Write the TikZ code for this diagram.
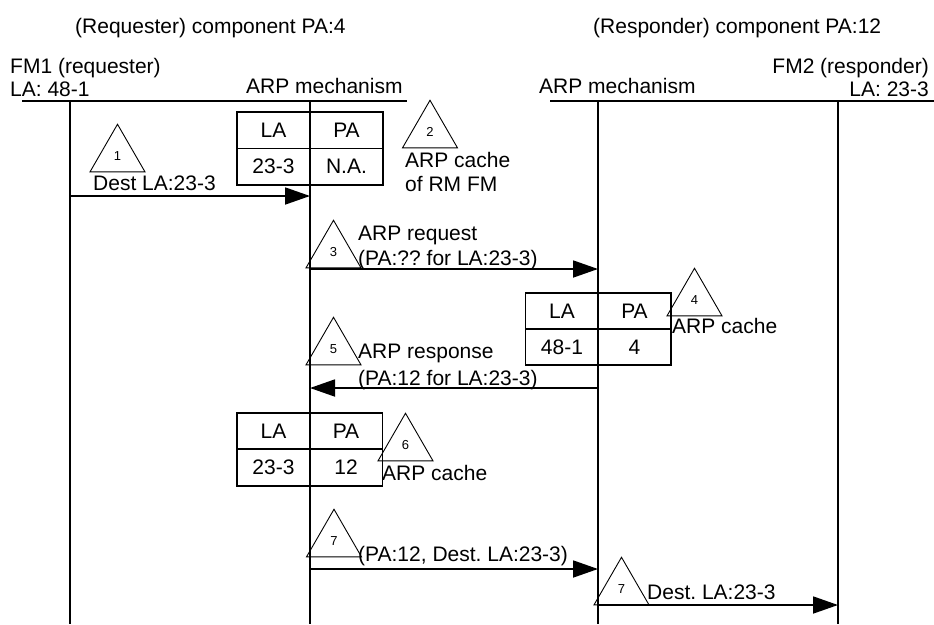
\documentclass[tikz,border=0pt]{standalone}
\usepackage{fontspec}
\setmainfont{Liberation Sans}
\usetikzlibrary{arrows.meta,shapes.geometric}
\frenchspacing
\begin{document}
\begin{tikzpicture}[x=1pt,y=-1pt,
  txt/.style={font=\fontsize{21}{25}\selectfont, inner sep=0pt},
  lbl/.style={txt, anchor=base west},
  lblr/.style={txt, anchor=base east},
  cell/.style={draw, line width=1.8pt, minimum width=73pt, minimum height=36.5pt,
    inner sep=0pt, font=\fontsize{21}{25}\selectfont},
  stepmark/.style={draw, line width=0.9pt, regular polygon, regular polygon sides=3,
    minimum size=63.5pt, inner sep=0pt, font=\fontsize{13}{15}\selectfont},
  rule/.style={line width=1.8pt},
  msg/.style={line width=1.8pt, -{Triangle[length=25pt,width=17pt]}},
]
\useasboundingbox (0,0) rectangle (934,624);

% ---- headings
\node[lbl] (hreq) at (75,33) {(Requester) component PA:4};
\node[lbl] (hres) at (593,33) {(Responder) component PA:12};
\node[lbl] (fm1) at (10,73) {FM1 (requester)};
\node[lbl] (fm1la) at (10,96) {LA: 48-1};
\node[lbl] (arpA) at (246,93) {ARP mechanism};
\node[lbl] (arpB) at (539,93) {ARP mechanism};
\node[lblr] (fm2) at (929,73) {FM2 (responder)};
\node[lblr] (fm2la) at (929,96) {LA: 23-3};

% ---- component bars
\coordinate (barAl) at (22,101);  \coordinate (barAr) at (407,101);
\coordinate (barBl) at (550,101); \coordinate (barBr) at (934,101);
\draw[rule] (barAl) -- (barAr);
\draw[rule] (barBl) -- (barBr);

% ---- lifelines
\coordinate (l1t) at (70,101);  \coordinate (l1b) at (70,624);
\coordinate (l2t) at (310,101); \coordinate (l2b) at (310,624);
\coordinate (l3t) at (598,101); \coordinate (l3b) at (598,624);
\coordinate (l4t) at (838,101); \coordinate (l4b) at (838,624);
\foreach \a in {1,2,3,4} \draw[rule] (l\a t) -- (l\a b);

% ---- cache tables
\node[cell] (ta1) at (273.5,130.25) {LA};
\node[cell] (ta2) at (346.5,130.25) {PA};
\node[cell] (ta3) at (273.5,166.75) {23-3};
\node[cell] (ta4) at (346.5,166.75) {N.A.};

\node[cell, minimum height=36pt] (tb1) at (562,311) {LA};
\node[cell, minimum height=36pt] (tb2) at (634.5,311) {PA};
\node[cell, minimum height=36pt] (tb3) at (562,347) {48-1};
\node[cell, minimum height=36pt] (tb4) at (634.5,347) {4};

\node[cell] (tc1) at (273.5,431) {LA};
\node[cell] (tc2) at (346,431) {PA};
\node[cell] (tc3) at (273.5,467.5) {23-3};
\node[cell] (tc4) at (346,467.5) {12};

% ---- step markers
\node[stepmark] (s1) at (117.5,156) {1};
\node[stepmark] (s2) at (430,132) {2};
\node[stepmark] (s3) at (333.5,252) {3};
\node[stepmark] (s4) at (694.5,300) {4};
\node[stepmark] (s5) at (333.5,349) {5};
\node[stepmark] (s6) at (405.5,445) {6};
\node[stepmark] (s7a) at (334,541) {7};
\node[stepmark] (s7b) at (621.5,589) {7};

% ---- labels
\node[lbl] (d1) at (93,190) {Dest LA:23-3};
\node[lbl] (c2a) at (405,167) {ARP cache};
\node[lbl] (c2b) at (405,191) {of RM FM};
\node[lbl] (r3a) at (358,240) {ARP request};
\node[lbl] (r3b) at (358,265) {(PA:?? for LA:23-3)};
\node[lbl] (c4) at (672,333) {ARP cache};
\node[lbl] (r5a) at (358,358) {ARP response};
\node[lbl] (r5b) at (358,385) {(PA:12 for LA:23-3)};
\node[lbl] (c6) at (382,480) {ARP cache};
\node[lbl] (r7a) at (358,561) {(PA:12, Dest. LA:23-3)};
\node[lbl] (r7b) at (647,599) {Dest. LA:23-3};

% ---- messages
\coordinate (m1s) at (70,196);  \coordinate (m1e) at (310,196);
\coordinate (m3s) at (310,269); \coordinate (m3e) at (598,269);
\coordinate (m5s) at (598,388); \coordinate (m5e) at (310,388);
\coordinate (m7s) at (310,569); \coordinate (m7e) at (598,569);
\coordinate (m8s) at (598,605); \coordinate (m8e) at (838,605);
\draw[msg] (m1s) -- (m1e);
\draw[msg] (m3s) -- (m3e);
\draw[msg] (m5s) -- (m5e);
\draw[msg] (m7s) -- (m7e);
\draw[msg] (m8s) -- (m8e);
\end{tikzpicture}
\end{document}
